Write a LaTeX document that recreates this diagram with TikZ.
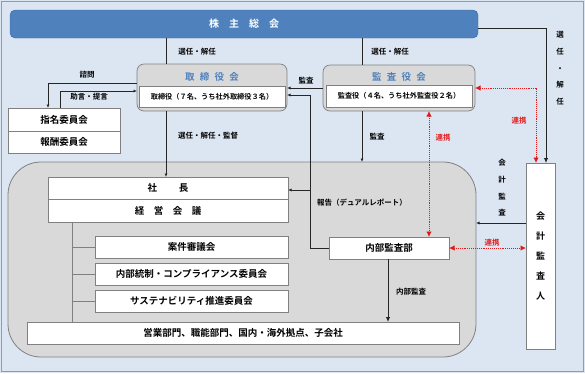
\documentclass[tikz,border=0pt]{standalone}
\usepackage{fontspec}
\setmainfont{Noto Sans CJK JP}[BoldFont={Noto Sans CJK JP Bold}]
\usetikzlibrary{arrows.meta}
\definecolor{bgC}{HTML}{DCE6F2}
\definecolor{barC}{HTML}{4F81BD}
\definecolor{barD}{HTML}{3A6BA6}
\definecolor{grayC}{HTML}{D9D9D9}
\definecolor{lineG}{HTML}{808080}
\definecolor{lineK}{HTML}{262626}
\definecolor{redC}{HTML}{E31A1C}
\definecolor{titleC}{HTML}{4F81BD}
\tikzset{
 wbox/.style={draw=lineG, fill=white, line width=0.6pt, inner sep=0pt, outer sep=0pt, font=\bfseries\fontsize{9.5}{11}\selectfont},
 gbox/.style={draw=lineG, fill=grayC, line width=0.7pt, inner sep=0pt, outer sep=0pt, rounded corners=7pt},
 ttl/.style={inner sep=0pt, text=titleC, font=\bfseries\fontsize{9.5}{11}\selectfont},
 lbl/.style={inner sep=0pt, font=\bfseries\fontsize{7.5}{9}\selectfont},
 vlbl/.style={inner sep=0pt, align=center, font=\bfseries\fontsize{7.5}{16.7}\selectfont},
 rlbl/.style={lbl, text=redC},
 ln/.style={draw=lineK, line width=0.7pt},
 arr/.style={ln, -{Latex[length=3.5pt,width=3pt]}},
 bigarr/.style={ln, line width=0.9pt, -{Latex[length=5pt,width=4.5pt]}},
 gln/.style={draw=lineG, line width=0.7pt},
 rlink/.style={draw=redC, line width=0.9pt, dash pattern=on 1pt off 0.9pt, {Latex[length=5.5pt,width=5.5pt]}-{Latex[length=5.5pt,width=5.5pt]}},
}
\newcommand{\tsp}{\hspace{0.55em}}
\begin{document}
\begin{tikzpicture}[x=1pt,y=-1pt]
\useasboundingbox (0,0) rectangle (585,373);
\fill[bgC] (0,0) rectangle (585,373);
\draw[lineG!80, line width=1pt] (1.5,1.5) rectangle (583.5,371.5);

% shareholders bar
\node[draw=barD, fill=barC, rounded corners=5pt, minimum width=468pt, minimum height=28pt, inner sep=0pt, outer sep=0pt,
      text=white, font=\bfseries\fontsize{10}{12}\selectfont] (kab) at (244,24) {株　主　総　会};

% big gray region
\node[draw=lineG, fill=grayC, line width=0.8pt, rounded corners=33pt, minimum width=468pt, minimum height=195pt, inner sep=0pt, outer sep=0pt] (reg) at (242,259.5) {};

% board
\node[gbox, minimum width=150pt, minimum height=47pt] (tori) at (212,87.5) {};
\node[ttl] (toriT) at (212,77) {取\tsp 締\tsp 役\tsp 会};
\node[wbox, minimum width=146pt, minimum height=21pt, font=\bfseries\fontsize{7.2}{9}\selectfont] (toriI) at (212,96.5) {取締役（７名、うち社外取締役３名）};

% audit board
\node[gbox, minimum width=152pt, minimum height=46pt] (kansa) at (399,88) {};
\node[ttl] (kansaT) at (399,77) {監\tsp 査\tsp 役\tsp 会};
\node[wbox, minimum width=146pt, minimum height=22pt, font=\bfseries\fontsize{7.2}{9}\selectfont] (kansaI) at (399,96) {監査役（４名、うち社外監査役２名）};

% committees
\node[wbox, minimum width=112pt, minimum height=23pt] (shimei) at (64,119.5) {指名委員会};
\node[wbox, minimum width=112pt, minimum height=22pt] (hoshu) at (64,142) {報酬委員会};

% management
\node[wbox, minimum width=240pt, minimum height=22pt] (shacho) at (168,188) {社\hspace{2.3em}長};
\node[wbox, minimum width=240pt, minimum height=23pt] (keiei) at (168,210.5) {経　営　会　議};
\node[wbox, minimum width=193pt, minimum height=22pt] (anken) at (191.5,247) {案件審議会};
\node[wbox, minimum width=193pt, minimum height=22pt] (naitou) at (191.5,274) {内部統制・コンプライアンス委員会};
\node[wbox, minimum width=193pt, minimum height=22pt] (susta) at (191.5,301) {サステナビリティ推進委員会};
\node[wbox, minimum width=432pt, minimum height=22pt] (eigyo) at (243,333) {営業部門、職能部門、国内・海外拠点、子会社};
\node[wbox, minimum width=120pt, minimum height=22pt] (naibu) at (389,248) {内部監査部};

% accounting auditor
\node[wbox, minimum width=29pt, minimum height=186pt, align=center, font=\bfseries\fontsize{9}{20}\selectfont] (kaikei) at (540.5,256) {会\\計\\監\\査\\人};

% helper coordinates
\coordinate (x48) at (48,0);
\coordinate (x60) at (60,0);
\coordinate (x72) at (72,0);
\coordinate (x166) at (166,0);
\coordinate (x310) at (310,0);
\coordinate (x362) at (362,0);
\coordinate (x388) at (388,0);
\coordinate (x429) at (429,0);
\coordinate (x536) at (536,0);
\coordinate (x546) at (546,0);
\coordinate (y28) at (0,28);
\coordinate (y83) at (0,83);
\coordinate (y88) at (0,88);
\coordinate (y91) at (0,91);
\coordinate (y95) at (0,95);
\coordinate (y190) at (0,190);
\coordinate (y223) at (0,223);

% connectors
\draw[ln] (kab.south -| x166) -- (tori.north -| x166);
\draw[ln] (kab.south -| x362) -- (kansa.north -| x362);
\draw[arr] (tori.south -| x166) -- (shacho.north -| x166);
\draw[arr] (kansa.south -| x362) -- (reg.north -| x362);
\draw[arr] (kansa.west |- y88) -- (tori.east |- y88);
\draw[arr] (naibu.west) -- (x310 |- naibu.west) -- (x310 |- y95) -- (tori.east |- y95);
\draw[arr] (x310 |- y190) -- (shacho.east |- y190);
\draw[arr] (tori.west |- y83) -- (x48 |- y83) -- (shimei.north -| x48);
\draw[arr] (shimei.north -| x60) -- (x60 |- y91) -- (tori.west |- y91);
\draw[gln] (keiei.south -| x72) -- (eigyo.north -| x72);
\draw[gln] (x72 |- anken.west) -- (anken.west);
\draw[gln] (x72 |- naitou.west) -- (naitou.west);
\draw[gln] (x72 |- susta.west) -- (susta.west);
\draw[bigarr] (naibu.south -| x388) -- (eigyo.north -| x388);
\draw[bigarr] (kab.east |- y28) -- (x546 |- y28) -- (kaikei.north -| x546);
\draw[arr] (kaikei.west |- y223) -- (reg.east |- y223);
\draw[rlink] (kansa.east |- y88) -- (x536 |- y88) -- (kaikei.north -| x536);
\draw[rlink] (kansa.south -| x429) -- (naibu.north -| x429);
\draw[rlink] (naibu.east) -- (kaikei.west |- naibu.east);

% labels
\node[lbl] (l1) at (197,52) {選任・解任};
\node[lbl] (l2) at (390,52) {選任・解任};
\node[vlbl] (l3) at (560,68.5) {選\\任\\・\\解\\任};
\node[lbl] (l4) at (306,81) {監査};
\node[lbl] (l5) at (87,75) {諮問};
\node[lbl] (l6) at (89,96.5) {助言・提言};
\node[lbl] (l7) at (208,136) {選任・解任・監督};
\node[lbl] (l8) at (377,137) {監査};
\node[rlbl] (l9) at (443,138) {連携};
\node[rlbl] (l10) at (519,121) {連携};
\node[vlbl] (l11) at (502,188) {会\\計\\監\\査};
\node[lbl] (l12) at (362,203) {報告（デュアルレポート）};
\node[rlbl] (l13) at (492,243) {連携};
\node[lbl] (l14) at (411,292) {内部監査};
\end{tikzpicture}
\end{document}
